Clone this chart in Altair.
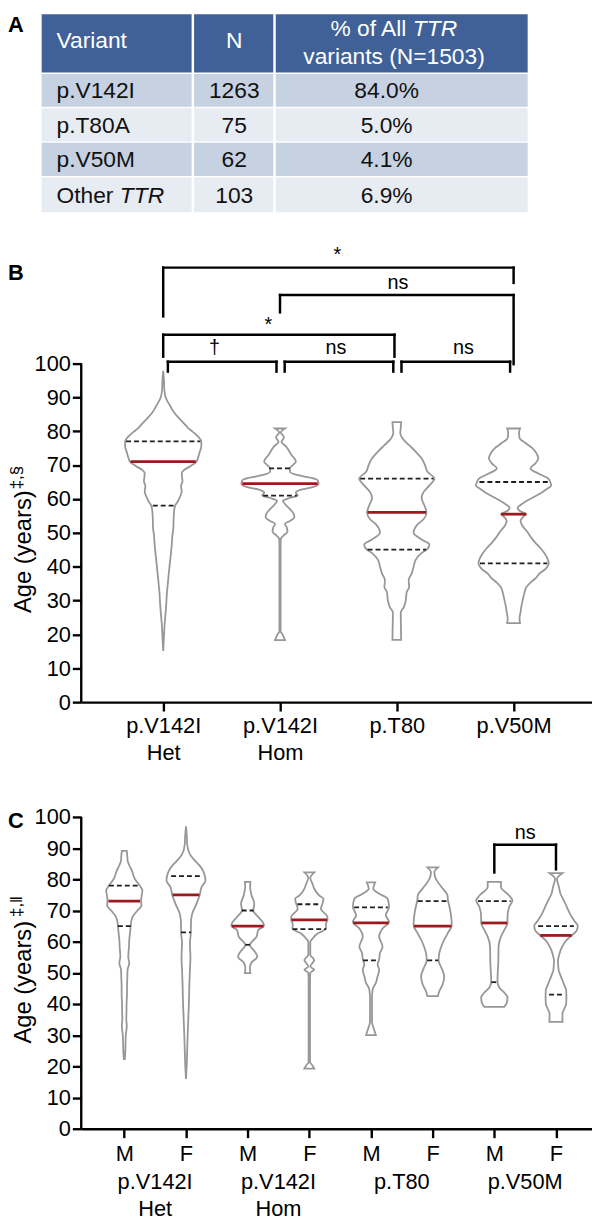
import json
import altair as alt
import pandas as pd

FONT = "Liberation Sans"

# ===================== DATA =====================
# ---- Panel A: table
TABLE_VARIANT = ["p.V142I", "p.T80A", "p.V50M", "Other"]
TABLE_VARIANT_ITALIC = ["", "", "", "TTR"]
TABLE_N = ["1263", "75", "62", "103"]
TABLE_PCT = ["84.0%", "5.0%", "4.1%", "6.9%"]
HEADER_VARIANT = "Variant"
HEADER_N = "N"
HEADER_PCT_LINE1 = ["% of All", "TTR"]
HEADER_PCT_LINE2 = "variants (N=1503)"

# ---- Panel B: violins (age, density half-width)
B_CATEGORIES = ["p.V142I\nHet", "p.V142I\nHom", "p.T80", "p.V50M"]
B_PROFILE_HET = [(97.8, 0), (95, 0.8), (92, 1.2), (90, 2.5), (89, 4), (87.5, 7), (85.5, 11), (83.5, 17),
                 (82.3, 21), (81, 25), (79.8, 30), (78.5, 35), (77, 38.5), (75.5, 38.5), (74, 37), (72.5, 35.5),
                 (71, 33.5), (69.6, 27), (68.5, 21), (67.6, 18.7), (66.5, 19), (65.2, 19.5), (63.8, 18),
                 (62.3, 18.7), (61, 17.5), (59.4, 15), (58, 12), (56.4, 11), (54, 10.5), (51.6, 10.3),
                 (49, 9.2), (46.7, 8.7), (44, 7.8), (41.8, 7), (39, 6), (37, 5.3), (34.5, 4.5), (32.1, 3.7),
                 (29.5, 3.2), (27.3, 2.7), (25, 2), (22.4, 1.3), (19, 0.7), (15.1, 0)]
B_PROFILE_HOM = [(80.8, 5), (79.6, 0.8), (78.2, 4), (76.8, 1.5), (75.5, 6), (74, 9.5), (72.8, 12), (71.8, 15),
                 (71, 16), (70, 13), (69, 10), (68, 10), (67, 18), (66.2, 32), (65.5, 38), (64.5, 39),
                 (63.5, 33), (62.8, 22), (61.8, 16), (61, 18), (60.2, 9), (59.4, 3), (58.5, 5), (57, 10),
                 (55.5, 14), (54.5, 14.5), (53.5, 10), (52.6, 5), (51.5, 7), (50.3, 7.5), (49.3, 4),
                 (48.3, 1), (47, 0.6), (21, 0.6), (20, 2.5), (18.3, 5)]
B_PROFILE_T80 = [(82.7, 4.4), (81, 4), (79.5, 3.5), (78, 5.5), (76, 12), (74, 19), (72, 25), (70, 28.5),
                 (68, 31), (66, 38), (64, 33), (62, 27), (60.3, 25), (58, 28), (56, 30), (54, 27),
                 (52.5, 21), (50, 17), (48, 25), (46.5, 33), (45, 30), (44, 25), (42, 19), (40, 17),
                 (38, 15), (36, 12), (34, 12.5), (32.5, 10), (30, 9), (28, 7), (26.5, 4), (25, 4),
                 (22, 4.2), (18.4, 4.4)]
B_PROFILE_V50M = [(80.8, 6.5), (79.5, 5.5), (78, 6), (76.5, 12), (75, 19), (73.5, 23), (72, 25), (70.5, 22),
                  (69, 17), (67.5, 25), (66, 35), (65, 37), (64, 38), (63, 34), (62, 29), (60.5, 20),
                  (59.4, 13), (58.2, 7), (57.4, 4), (56.5, 6), (55.5, 12), (54.5, 9), (53.5, 7), (52, 9),
                  (50.6, 13), (48.5, 18), (46.7, 23), (45.5, 27), (44, 31), (42.5, 34), (41, 35.5),
                  (40, 34), (39, 31), (38.2, 27), (36.5, 22), (35.3, 17), (34, 13), (32.4, 11),
                  (30.5, 9.5), (28.5, 8), (26.6, 7), (24.7, 6), (23.3, 6.5)]
B_PROFILES = [B_PROFILE_HET, B_PROFILE_HOM, B_PROFILE_T80, B_PROFILE_V50M]
B_MEDIAN = [(71, 33), (64.5, 38), (56, 29.5), (55.5, 13)]
B_Q1 = [(58, 10.5), (61, 17), (45, 29.5), (41, 34)]
B_Q3 = [(77, 37.5), (69, 11), (66, 37), (65, 34.5)]

# significance brackets: left x, right x, bar age, left leg end, right leg end, label, label x, label age
B_BR_X1 = [1.04, 2.04, 3.04, 1.0, 2.0, 1.0]
B_BR_X2 = [1.97, 2.97, 3.97, 2.98, 4.0, 4.0]
B_BR_Y = [100.5, 100.5, 100.5, 108.5, 120.2, 128.3]
B_BR_YL = [97.6, 97.6, 97.6, 102.0, 115.1, 113.9]
B_BR_YR = [97.6, 97.6, 97.6, 102.0, 99.8, 123.8]
B_BR_LABEL = ["†", "ns", "ns", "*", "ns", "*"]
B_BR_LX = [1.44, 2.48, 3.57, 1.90, 3.01, 2.49]
B_BR_LY = [104.6, 104.6, 104.6, 111.3, 123.6, 132.0]

# ---- Panel C
C_SEX = ["M", "F", "M", "F", "M", "F", "M", "F"]
C_GROUPS = ["p.V142I\nHet", "p.V142I\nHom", "p.T80", "p.V50M"]
C_PROFILES = [
    [(89.1, 2.5), (87.5, 3), (86, 3.3), (84.5, 5), (82.7, 7.7), (80.1, 10.7), (78, 15.5), (76.4, 18.3),
     (74.8, 17.5), (73.2, 17), (71.6, 17.3), (70, 13.3), (67.9, 8.3), (66.5, 7), (65.1, 6.5), (62.6, 5.7),
     (60.5, 5), (58.4, 4.7), (55.2, 4), (53.1, 5), (51, 3.3), (48, 3), (45.7, 2.7), (43, 2.7), (40.4, 2.3),
     (37.5, 2.2), (35.2, 2), (33, 2.5), (30, 1.5), (27, 1.2), (25, 1), (22.3, 0.5)],
    [(97, 0), (94, 0.8), (91, 1.3), (88, 4), (86, 9), (84.3, 14), (82.7, 17.3), (81.2, 19), (79.6, 19.7),
     (77.5, 15.7), (75.1, 14), (72.2, 10.7), (69, 6.3), (65.8, 5), (63.2, 5), (59.5, 4), (55, 4.5),
     (51, 4), (47, 3.5), (43, 3.2), (40.5, 3), (35, 2.3), (30, 1.7), (26, 1.3), (20, 0.7), (16, 0)],
    [(79.2, 2.8), (77.5, 2.5), (74.8, 4), (72.2, 6.7), (70, 5.7), (67.9, 10.7), (66, 15.7), (65.1, 16.5),
     (63.7, 10.7), (61.6, 9), (58.9, 2.3), (56.8, 7.3), (55.2, 9.7), (53.3, 4), (51.5, 2.3), (49.9, 2.8)],
    [(82.2, 5), (80.4, 1), (78.5, 3.3), (77, 5), (74.8, 10), (73.8, 14.3), (72.2, 13.3), (70.6, 11.7),
     (67.9, 18.3), (67.1, 18.3), (65.6, 16.7), (64.2, 17), (62.6, 8.3), (61, 3.3), (59.9, 1), (55.7, 1),
     (54.6, 4), (54.1, 5), (53.1, 3), (52, 1), (51, 5), (50, 1), (48, 0.7), (21.4, 0.7), (20.4, 3),
     (19.3, 5)],
    [(79, 4.2), (77, 2.3), (75.4, 8.3), (73.8, 16.7), (71.2, 18.3), (68.5, 15), (66.4, 18.3), (64.2, 11.7),
     (61.6, 8.3), (58.4, 11.7), (56.3, 9), (54.4, 8.3), (52.6, 6.7), (51, 8.3), (48.9, 6.7), (46.8, 5),
     (44.7, 1.7), (42, 1), (34.2, 1), (32, 3), (30, 5)],
    [(83.8, 5.3), (82.2, 1.7), (80.1, 3.3), (77.5, 9), (74.8, 15), (73.2, 15.5), (71.6, 16.7), (69, 18.3),
     (65.3, 19.3), (62.6, 15), (59.5, 10), (56.3, 6.7), (54, 6), (51.5, 9), (48.9, 11.7), (46.2, 10),
     (44.1, 6.7), (42.5, 5.3)],
    [(79.2, 6.7), (77.5, 6.7), (74.8, 15), (73.2, 18.3), (71.1, 15), (67.9, 13.3), (66, 13.3), (63.7, 10),
     (61.6, 6.7), (58.4, 4.3), (53.1, 4), (48.9, 3.3), (47.2, 3.2), (45.3, 5), (43.7, 10), (42.1, 13.3),
     (40.5, 12.7), (39.1, 10)],
    [(82, 6.7), (80.1, 1), (77.5, 3), (75.3, 4.6), (73.5, 7.5), (71.6, 10.3), (69.7, 13), (67.9, 16),
     (66.5, 19), (65.1, 22), (63.6, 21), (62.1, 16.3), (60.4, 10.3), (58.8, 7), (57.2, 4.6), (55.5, 3),
     (54, 2), (52.5, 2.2), (50.8, 2.7), (49.2, 4.5), (47.6, 6.5), (46, 8.5), (44.4, 10.3), (42.5, 10.5),
     (40.1, 10.3), (38.5, 8.5), (37, 6.5), (35.5, 6.5), (34.3, 6.7)],
]
C_MEDIAN = [(73, 16), (75, 13.5), (65, 16), (67, 18), (66, 18), (65, 19), (66, 13), (62, 16)]
C_Q3 = [(78, 15.5), (81, 15), (70, 6), (72, 12), (71, 17), (73, 15), (73, 16.5), (65, 18)]
C_Q1 = [(65, 6.5), (63, 5), (59, 2.3), (64, 17), (54, 8), (54, 5.5), (47, 3), (43, 7)]

C_BR_X1 = [7.0]
C_BR_X2 = [8.0]
C_BR_Y = [91.1]
C_BR_YL = [82.2]
C_BR_YR = [83.2]
C_BR_LABEL = ["ns"]
C_BR_LX = [7.5]
C_BR_LY = [94.9]

# ===================== LAYOUT =====================
PLOT_W = 516
A_H, B_H, C_H = 200, 479, 415
B_YMAX = 140
C_YMAX = C_H / 3.15
B_XDOM = [0.2983, 4.6712]
C_XDOM = [0.3018, 8.584]
B_STEP, C_STEP = 118.0, 62.3
GRAY = "#9a9695"
RED = "#9c1a1e"
DASH = "#1e1e1e"

# Table layout (figure pixel coordinates)
TABLE_COLS = [(42, 193.5), (196, 276), (278.5, 533)]
TABLE_ROWS = [(8, 67), (68.5, 101.5), (103, 136.5), (138, 171.5), (173, 208)]
ROW_FILLS = ["#3f6198", "#c6d1e2", "#e7ebf2", "#c6d1e2", "#e7ebf2"]

# ===================== PANEL A =====================
ax_s = alt.Scale(domain=[82, 82 + PLOT_W], nice=False, zero=False)
ay_s = alt.Scale(domain=[8, 8 + A_H], nice=False, zero=False, reverse=True)

cells = []
for r, (y1, y2) in enumerate(TABLE_ROWS):
    for (x1, x2) in TABLE_COLS:
        cells.append({"x1": x1, "x2": x2, "y1": y1, "y2": y2, "fill": ROW_FILLS[r]})
cells_df = pd.DataFrame(cells)
rects = alt.Chart(cells_df).mark_rect().encode(
    x=alt.X("x1:Q", scale=ax_s, axis=None), x2="x2:Q",
    y=alt.Y("y1:Q", scale=ay_s, axis=None), y2="y2:Q",
    color=alt.Color("fill:N", scale=None),
)

row_mid = [(y1 + y2) / 2 + 1 for (y1, y2) in TABLE_ROWS[1:]]
left_rows = [{"t": HEADER_VARIANT, "x": 57, "y": 35, "c": "white"}]
center_rows = [{"t": HEADER_N, "x": 236.6, "y": 35, "c": "white"},
               {"t": HEADER_PCT_LINE2, "x": 398, "y": 51.7, "c": "white"}]
right_rows = [{"t": HEADER_PCT_LINE1[0], "x": 410.5, "y": 23.5, "c": "white"}]
italic_rows = [{"t": HEADER_PCT_LINE1[1], "x": 417, "y": 23.5, "c": "white"}]
for i in range(4):
    left_rows.append({"t": TABLE_VARIANT[i], "x": 57, "y": row_mid[i], "c": "#111111"})
    center_rows.append({"t": TABLE_N[i], "x": 236.6, "y": row_mid[i], "c": "#111111"})
    center_rows.append({"t": TABLE_PCT[i], "x": 390.5, "y": row_mid[i], "c": "#111111"})
    if TABLE_VARIANT_ITALIC[i]:
        italic_rows.append({"t": TABLE_VARIANT_ITALIC[i], "x": 121, "y": row_mid[i], "c": "#111111"})


def table_text(rows, align, italic=False):
    return alt.Chart(pd.DataFrame(rows)).mark_text(
        align=align, baseline="middle", fontSize=23, font=FONT,
        fontStyle="italic" if italic else "normal",
    ).encode(
        x=alt.X("x:Q", scale=ax_s, axis=None),
        y=alt.Y("y:Q", scale=ay_s, axis=None),
        text="t:N",
        color=alt.Color("c:N", scale=None),
    )


def panel_letter(letter, y, baseline):
    return alt.Chart(pd.DataFrame({"t": [letter]})).mark_text(
        align="left", baseline=baseline, fontSize=22, fontWeight="bold", font=FONT, color="black"
    ).encode(x=alt.value(-74), y=alt.value(y), text="t:N")


a_chart = alt.layer(
    rects,
    table_text(left_rows, "left"),
    table_text(center_rows, "center"),
    table_text(right_rows, "right"),
    table_text(italic_rows, "left", italic=True),
    panel_letter("A", 1, "top"),
).properties(width=PLOT_W, height=A_H)


# ===================== helpers for B / C =====================
def violin_df(profiles, step):
    rows = []
    for k, prof in enumerate(profiles):
        pos = k + 1
        for age, w in prof:
            rows.append({"vid": k, "age": age, "xl": pos - w / step, "xr": pos + w / step})
    return pd.DataFrame(rows)


def stat_df(stats, step):
    rows = []
    for k, (age, w) in enumerate(stats):
        pos = k + 1
        rows.append({"age": age, "xl": pos - w / step, "xr": pos + w / step})
    return pd.DataFrame(rows)


def bracket_df(x1, x2, y, yl, yr):
    rows = []
    for i in range(len(x1)):
        rows.append({"xa": x1[i], "xb": x2[i], "ya": y[i], "yb": y[i]})
        rows.append({"xa": x1[i], "xb": x1[i], "ya": yl[i], "yb": y[i]})
        rows.append({"xa": x2[i], "xb": x2[i], "ya": yr[i], "yb": y[i]})
    return pd.DataFrame(rows)


def build_panel(profiles, medians, q1s, q3s, step, xs, ys, xaxis, yaxis, br, ymax100=100):
    def X(f):
        return alt.X(f, type="quantitative", scale=xs, axis=xaxis)

    def Y(f):
        return alt.Y(f, type="quantitative", scale=ys, axis=yaxis)

    vdf = violin_df(profiles, step)
    area = alt.Chart(vdf).mark_area(
        orient="horizontal", interpolate="monotone", fill="white", stroke=GRAY, strokeWidth=1.8
    ).encode(y=Y("age"), x=X("xl"), x2="xr:Q", detail="vid:N")
    q_df = pd.concat([stat_df(q1s, step), stat_df(q3s, step)])
    quart = alt.Chart(q_df).mark_rule(color=DASH, strokeWidth=1.8, strokeDash=[5, 3]).encode(
        x=X("xl"), x2="xr:Q", y=Y("age"),
    )
    med = alt.Chart(stat_df(medians, step)).mark_rule(color=RED, strokeWidth=2.8).encode(
        x=X("xl"), x2="xr:Q", y=Y("age"),
    )
    yline = alt.Chart(pd.DataFrame({"a": [0], "b": [ymax100]})).mark_rule(
        color="black", strokeWidth=2.4
    ).encode(x=alt.value(0), y=Y("a"), y2="b:Q")
    bx1, bx2, by_, byl, byr, blab, blx, bly = br
    brk = alt.Chart(bracket_df(bx1, bx2, by_, byl, byr)).mark_rule(
        color="black", strokeWidth=2.5, strokeCap="square"
    ).encode(x=X("xa"), x2="xb:Q", y=Y("ya"), y2="yb:Q")
    blabels = alt.Chart(pd.DataFrame({"t": blab, "x": blx, "y": bly})).mark_text(
        fontSize=20, font=FONT, color="black", baseline="middle", align="center"
    ).encode(x=X("x"), y=Y("y"), text="t:N")
    return [area, quart, med, yline, brk, blabels]


def y_title(main, sup, y_center, y_sup):
    t1 = alt.Chart(pd.DataFrame({"t": [main]})).mark_text(
        angle=270, align="center", baseline="alphabetic", fontSize=24, font=FONT, color="black"
    ).encode(x=alt.value(-51), y=alt.value(y_center), text="t:N")
    t2 = alt.Chart(pd.DataFrame({"t": [sup]})).mark_text(
        angle=270, align="left", baseline="alphabetic", fontSize=17, font=FONT, color="black"
    ).encode(x=alt.value(-59.5), y=alt.value(y_sup), text="t:N")
    return [t1, t2]


axis_common = dict(
    grid=False, title=None, domainColor="black", domainWidth=2.4, tickColor="black",
    tickWidth=2.4, tickSize=9, labelColor="black", labelFont=FONT, labelFlush=False,
    labelOverlap=False,
)

# ===================== PANEL B =====================
bxs = alt.Scale(domain=B_XDOM, nice=False, zero=False)
bys = alt.Scale(domain=[0, B_YMAX], nice=False, zero=False)
b_xaxis = alt.Axis(
    values=[1, 2, 3, 4],
    labelExpr="split(" + json.dumps(B_CATEGORIES) + "[datum.value - 1], '\\n')",
    labelFontSize=22, labelLineHeight=27, labelPadding=5, **axis_common,
)
b_yaxis = alt.Axis(values=list(range(0, 101, 10)), domain=False, labelFontSize=22, labelPadding=2,
                   **axis_common)
b_layers = build_panel(B_PROFILES, B_MEDIAN, B_Q1, B_Q3, B_STEP, bxs, bys, b_xaxis, b_yaxis,
                       (B_BR_X1, B_BR_X2, B_BR_Y, B_BR_YL, B_BR_YR, B_BR_LABEL, B_BR_LX, B_BR_LY))
b_chart = alt.layer(
    *b_layers,
    *y_title("Age (years)", "‡,§", 327, 264),
    panel_letter("B", 46, "middle"),
).properties(width=PLOT_W, height=B_H)

# ===================== PANEL C =====================
cxs = alt.Scale(domain=C_XDOM, nice=False, zero=False)
cys = alt.Scale(domain=[0, C_YMAX], nice=False, zero=False)
c_xaxis = alt.Axis(
    values=list(range(1, 9)),
    labelExpr=json.dumps(C_SEX) + "[datum.value - 1]",
    labelFontSize=22, labelPadding=6, **axis_common,
)
c_yaxis = alt.Axis(values=list(range(0, 101, 10)), domain=False, labelFontSize=22, labelPadding=2,
                   **axis_common)
c_layers = build_panel(C_PROFILES, C_MEDIAN, C_Q1, C_Q3, C_STEP, cxs, cys, c_xaxis, c_yaxis,
                       (C_BR_X1, C_BR_X2, C_BR_Y, C_BR_YL, C_BR_YR, C_BR_LABEL, C_BR_LX, C_BR_LY))
group_df = pd.DataFrame({"t": C_GROUPS, "x": [2 * g + 1.5 for g in range(len(C_GROUPS))]})
c_groups = alt.Chart(group_df).mark_text(
    align="center", baseline="top", fontSize=22, font=FONT, color="black", lineBreak="\n", lineHeight=27
).encode(x=alt.X("x:Q", scale=cxs, axis=c_xaxis), y=alt.value(C_H + 44), text="t:N")
c_chart = alt.layer(
    *c_layers,
    c_groups,
    *y_title("Age (years)", "‡,‖", 267, 201),
    panel_letter("C", 104, "middle"),
).properties(width=PLOT_W, height=C_H)

chart = alt.vconcat(a_chart, b_chart, c_chart, spacing=16, bounds="flush").properties(
    padding=0, background="white"
).configure(font=FONT).configure_view(strokeWidth=0, stroke="transparent")

chart.save("out.html", embed_options={"renderer": "svg", "actions": False})
